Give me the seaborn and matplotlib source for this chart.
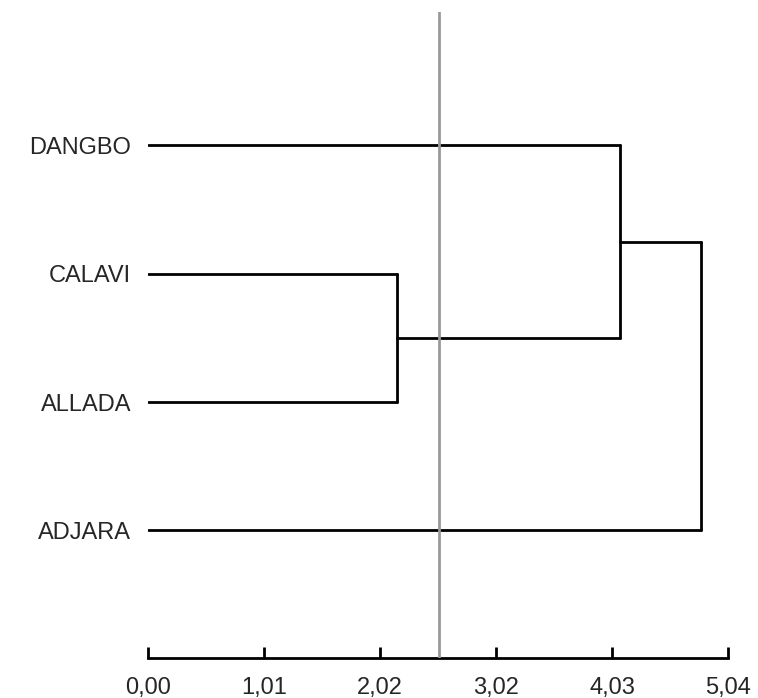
import pandas as pd
import numpy as np
import matplotlib
matplotlib.use("Agg")
import matplotlib.pyplot as plt
import seaborn as sns

sns.set_style("white")
plt.rcParams['font.family'] = ['Liberation Sans', 'DejaVu Sans']

labels = ["DANGBO", "CALAVI", "ALLADA", "ADJARA"]
leaf_pos = [3, 2, 1, 0]
# fusions : (groupe a, groupe b, hauteur)
merges = [("CALAVI", "ALLADA", 2.16),
          ("DANGBO", "CALAVI+ALLADA", 4.10),
          ("DANGBO+CALAVI+ALLADA", "ADJARA", 4.80)]
cut_level = 2.53
xticks = [0.00, 1.008, 2.016, 3.024, 4.032, 5.04]
xtick_labels = ["0,00", "1,01", "2,02", "3,02", "4,03", "5,04"]

# construction des segments du dendrogramme
nodes = {lab: (0.0, y) for lab, y in zip(labels, leaf_pos)}
rows = []
seg = 0
for a, b, h in merges:
    xa, ya = nodes[a]
    xb, yb = nodes[b]
    for x0, y0, x1, y1 in [(xa, ya, h, ya), (h, ya, h, yb), (xb, yb, h, yb)]:
        rows.append({"seg": seg, "x": x0, "y": y0})
        rows.append({"seg": seg, "x": x1, "y": y1})
        seg += 1
    nodes[a + "+" + b] = (h, (ya + yb) / 2)
df = pd.DataFrame(rows)

fig = plt.figure(figsize=(7.58, 6.98), dpi=100)
ax = fig.add_axes([0.195, 0.058, 0.766, 0.925])

sns.lineplot(data=df, x="x", y="y", units="seg", estimator=None, sort=False,
             color="black", linewidth=2.0, ax=ax, legend=False)
ax.axvline(cut_level, color="#999999", linewidth=2.0, zorder=5)

ax.set_xlim(0, 5.04)
ax.set_ylim(-0.99, 4.04)
ax.set_xticks(xticks)
ax.set_xticklabels(xtick_labels)
ax.set_yticks(leaf_pos)
ax.set_yticklabels(labels)
ax.set_xlabel("")
ax.set_ylabel("")

for s in ["left", "top", "right"]:
    ax.spines[s].set_visible(False)
ax.spines["bottom"].set_linewidth(2.0)
ax.spines["bottom"].set_color("black")
ax.tick_params(axis="x", direction="in", length=8, width=2.0, color="black",
               pad=14, labelsize=17, bottom=True)
ax.tick_params(axis="y", length=0, pad=12, labelsize=17)

fig.savefig("out.png", dpi=100)
